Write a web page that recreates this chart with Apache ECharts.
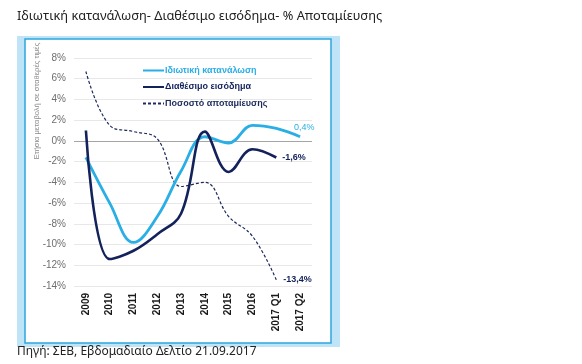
<!DOCTYPE html>
<html><head><meta charset="utf-8">
<script src="https://cdn.jsdelivr.net/npm/echarts@6/dist/echarts.min.js"></script>
<style>html,body{margin:0;padding:0;background:#fff}#c{width:582px;height:364px}</style>
</head><body><div id="c"></div>
<script>
const categories = ['2009','2010','2011','2012','2013','2014','2015','2016','2017 Q1','2017 Q2'];
const consumption = [-1.6, -6.0, -9.8, -7.3, -2.9, 0.4, -0.2, 1.5, 1.2, 0.4];
const income = [1.0, -11.4, -10.6, -9.0, -7.0, 0.9, -3.0, -0.8, -1.6];
const savings = [6.7, 1.5, 0.9, 0.2, -4.4, -4.0, -7.3, -9.2, -13.4];
const yTicks = [-14, -12, -10, -8, -6, -4, -2, 0, 2, 4, 6, 8];
const seriesNames = ['Ιδιωτική κατανάλωση', 'Διαθέσιμο εισόδημα', 'Ποσοστό αποταμίευσης'];
const titleText = 'Ιδιωτική κατανάλωση- Διαθέσιμο εισόδημα- % Αποταμίευσης';
const sourceText = 'Πηγή: ΣΕΒ, Εβδομαδιαίο Δελτίο 21.09.2017';
const yName = 'Ετήσια μεταβολή σε σταθερές τιμές';

const cLight = '#2aaee6', cNavy = '#13225b', cDash = '#1d2b5c';
const fmt = v => String(v).replace('.', ',') + '%';
const lastOf = arr => arr[arr.length - 1];
const chart = echarts.init(document.getElementById('c'), null, {renderer: 'canvas'});
const splitColors = yTicks.map(t => t === 0 ? '#a6a6a6' : '#e8e8e8');
chart.setOption({
  animation: false,
  graphic: [
    {type: 'rect', shape: {x: 17, y: 36, width: 323, height: 311}, style: {fill: '#bfe4f7'}, z: -10},
    {type: 'rect', shape: {x: 25, y: 39, width: 306, height: 304}, style: {fill: '#fff', stroke: '#2ea6dd', lineWidth: 1.5}, z: -9},
    {type: 'text', left: 17, top: 10, style: {text: titleText, font: '12.8px "Noto Sans"', fill: '#222'}},
    {type: 'text', left: 17, top: 346, style: {text: sourceText, font: '12px "Noto Sans"', fill: '#222'}},
    {type: 'text', x: 37, y: 101, rotation: Math.PI / 2, style: {text: yName, font: '7.5px "Liberation Sans"', fill: '#8a8a8a', textAlign: 'center', textVerticalAlign: 'middle'}}
  ],
  grid: {left: 74, right: 270, top: 58, bottom: 78, containLabel: false},
  legend: {
    orient: 'vertical', left: 137, top: 61, itemWidth: 21, itemHeight: 10, itemGap: 7.5,
    itemStyle: {color: 'transparent', borderWidth: 0},
    textStyle: {fontFamily: 'Liberation Sans', fontSize: 9, fontWeight: 'bold', padding: [0, 0, 0, -4]},
    data: [
      {name: seriesNames[0], textStyle: {color: cLight}},
      {name: seriesNames[1], textStyle: {color: cNavy}},
      {name: seriesNames[2], textStyle: {color: cDash}}
    ]
  },
  xAxis: {
    type: 'category', data: categories, boundaryGap: true,
    axisLine: {show: false, onZero: false}, axisTick: {show: false},
    axisLabel: {rotate: 90, margin: 7, fontFamily: 'Liberation Sans', fontSize: 10, fontWeight: 'bold', color: '#1a1a1a', interval: 0}
  },
  yAxis: {
    type: 'value', min: -14, max: 8, interval: 2,
    axisLine: {show: false}, axisTick: {show: false},
    axisLabel: {formatter: '{value}%', fontFamily: 'Liberation Sans', fontSize: 10, color: '#6e6e6e', margin: 8},
    splitLine: {lineStyle: {color: splitColors, width: 1}}
  },
  series: [
    {name: seriesNames[0], type: 'line', smooth: 0.4, symbol: 'none', z: 3,
      lineStyle: {color: cLight, width: 2.8}, itemStyle: {color: cLight},
      endLabel: {show: true, formatter: () => fmt(lastOf(consumption)), distance: 5, offset: [-11, -9], color: cLight, fontFamily: 'Liberation Sans', fontSize: 9},
      data: consumption},
    {name: seriesNames[1], type: 'line', smooth: 0.4, symbol: 'none', z: 4,
      lineStyle: {color: cNavy, width: 2.6}, itemStyle: {color: cNavy},
      endLabel: {show: true, formatter: () => fmt(lastOf(income)), distance: 6, color: cNavy, fontFamily: 'Liberation Sans', fontSize: 9, fontWeight: 'bold'},
      data: income},
    {name: seriesNames[2], type: 'line', smooth: 0.4, symbol: 'none', z: 2,
      lineStyle: {color: cDash, width: 1.2, type: [3, 2]}, itemStyle: {color: cDash},
      endLabel: {show: true, formatter: () => fmt(lastOf(savings)), distance: 7, color: cNavy, fontFamily: 'Liberation Sans', fontSize: 9, fontWeight: 'bold'},
      data: savings}
  ]
});
</script></body></html>
